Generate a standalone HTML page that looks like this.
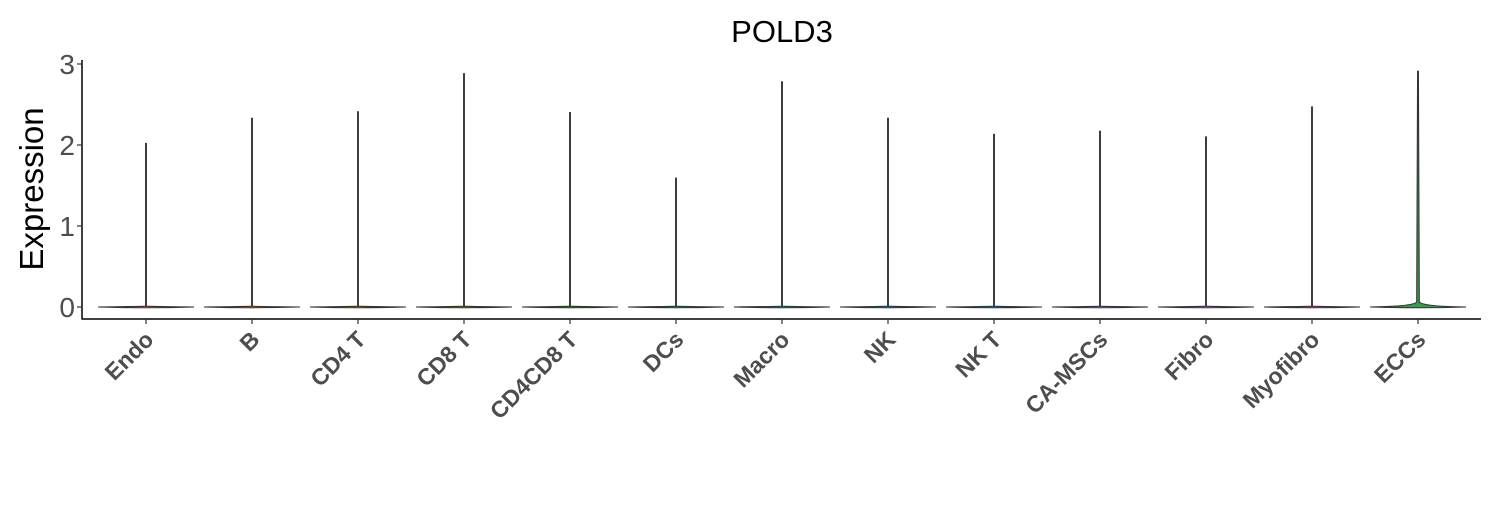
<!DOCTYPE html>
<html><head><meta charset="utf-8"><style>
body{margin:0;background:#fff}
svg text{font-family:"Liberation Sans",Arial,sans-serif}
</style></head><body>
<svg width="1500" height="500" viewBox="0 0 1500 500">
<text x="782" y="42" font-size="31" text-anchor="middle" fill="#000">POLD3</text>
<text transform="translate(43,189) rotate(-90)" font-size="33" text-anchor="middle" fill="#000">Expression</text>
<g id="plot"></g>
</svg>
<script>
const categories=["Endo","B","CD4 T","CD8 T","CD4CD8 T","DCs","Macro","NK","NK T","CA-MSCs","Fibro","Myofibro","ECCs"];
const maxValues=[2.02,2.33,2.41,2.88,2.40,1.59,2.78,2.33,2.13,2.17,2.10,2.47,2.91];
const baseHeights=[0.01,0.01,0.01,0.01,0.01,0.01,0.01,0.01,0.01,0.01,0.01,0.01,0.06];
const colors=["#f8766d","#e18a00","#be9c00","#8cab00","#24b700","#00be70","#00c1ab","#00bbda","#00acfc","#8b93ff","#d575fe","#f962dd","#3a9a50"];
const yTicks=[0,1,2,3];
const ns="http://www.w3.org/2000/svg";
const g=document.getElementById('plot');
const x0=82,x1=1481,yTop=60,yBase=319;
const xs=i=>146+i*106;
const ys=v=>307-v*81;
function mk(t,a){const e=document.createElementNS(ns,t);for(const k in a)e.setAttribute(k,a[k]);g.appendChild(e);return e;}
let e;
e=mk('line',{x1:x0,y1:yTop,x2:x0,y2:yBase+0.5,stroke:'#000','stroke-width':1.5});


e=mk('line',{x1:x0,y1:yBase,x2:x1,y2:yBase,stroke:'#000','stroke-width':1.5});


yTicks.forEach(v=>{
 e=mk('line',{x1:x0-5,y1:ys(v),x2:x0,y2:ys(v),stroke:'#333','stroke-width':1.2});
 
 
 e=mk('text',{x:x0-7,y:ys(v)+10,'font-size':28,'text-anchor':'end',fill:'#4d4d4d'});
 e.textContent=v;
 
 
});
categories.forEach((c,i)=>{
 const cx=xs(i),hw=48,y0=ys(0),yb=ys(baseHeights[i]),yt=ys(maxValues[i]);
 const sw=i===12?1.3:0.4;
 const d=`M${cx-hw},${y0} Q${cx-6},${y0-0.5} ${cx-sw},${yb} L${cx-0.4},${yt} L${cx+0.4},${yt} L${cx+sw},${yb} Q${cx+6},${y0-0.5} ${cx+hw},${y0} Q${cx},${y0+1.5} ${cx-hw},${y0}Z`;
 e=mk('path',{d:d,fill:colors[i],stroke:'#333','stroke-width':1.1});
 
 
 e=mk('line',{x1:cx,y1:yBase,x2:cx,y2:yBase+5,stroke:'#333','stroke-width':1.2});
 
 
 e=mk('text',{transform:`translate(${cx+9},${yBase+22}) rotate(-45)`,'font-size':23,'font-weight':'bold','text-anchor':'end',fill:'#4d4d4d'});
 e.textContent=c;
 
 
});
</script>
</body></html>
